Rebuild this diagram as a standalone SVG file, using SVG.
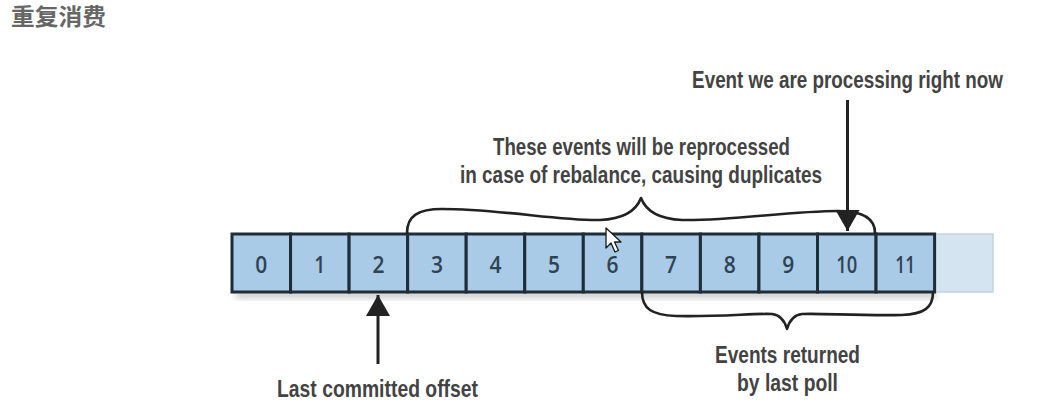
<svg xmlns="http://www.w3.org/2000/svg" width="1061" height="408" viewBox="0 0 1061 408">
<defs>
<style>
.cell{fill:#a9cbe7;stroke:#1f2d38;stroke-width:3}
.num{font-family:"Open Sans","Liberation Sans",sans-serif;font-size:24px;font-weight:600;fill:#2f4352;text-anchor:middle}
.lbl{font-family:"Liberation Sans",Arial,sans-serif;font-size:24px;font-weight:700;fill:#434343;text-anchor:middle}
.brace{fill:none;stroke:#222;stroke-width:2.6;stroke-linecap:round;stroke-linejoin:round}
.arrow{fill:none;stroke:#222;stroke-width:3}
.title{font-family:"Noto Sans CJK SC","Noto Sans",sans-serif;font-size:23px;font-weight:700;fill:#666}
</style>
<marker id="ah" markerWidth="8" markerHeight="8" refX="7" refY="4" orient="auto" markerUnits="strokeWidth" viewBox="0 0 8 8">
<path d="M0,0 L7,4 L0,8 z" fill="#222"/>
</marker>
<filter id="sh" x="-5%" y="-30%" width="110%" height="170%">
<feGaussianBlur stdDeviation="3"/>
</filter>
</defs>
<rect width="1061" height="408" fill="#ffffff"/>
<text class="title" x="11" y="25" textLength="95" lengthAdjust="spacingAndGlyphs">重复消费</text>

<rect x="236" y="292" width="700" height="6" fill="#888" opacity="0.5" filter="url(#sh)"/>

<g id="cell-faded"><rect x="934.6" y="234" width="58.4" height="58" fill="#d4e4f0" stroke="#c3d4e1" stroke-width="1.5"/></g>
<g id="cell-0"><rect class="cell" x="232" y="234" width="58.55" height="58"/><text class="num" x="261.3" y="273" textLength="12" lengthAdjust="spacingAndGlyphs">0</text></g>
<g id="cell-1"><rect class="cell" x="290.55" y="234" width="58.55" height="58"/><text class="num" x="319.8" y="273" textLength="11" lengthAdjust="spacingAndGlyphs">1</text></g>
<g id="cell-2"><rect class="cell" x="349.1" y="234" width="58.55" height="58"/><text class="num" x="378.4" y="273" textLength="12" lengthAdjust="spacingAndGlyphs">2</text></g>
<g id="cell-3"><rect class="cell" x="407.65" y="234" width="58.55" height="58"/><text class="num" x="436.9" y="273" textLength="12" lengthAdjust="spacingAndGlyphs">3</text></g>
<g id="cell-4"><rect class="cell" x="466.2" y="234" width="58.55" height="58"/><text class="num" x="495.5" y="273" textLength="12" lengthAdjust="spacingAndGlyphs">4</text></g>
<g id="cell-5"><rect class="cell" x="524.75" y="234" width="58.55" height="58"/><text class="num" x="554" y="273" textLength="12" lengthAdjust="spacingAndGlyphs">5</text></g>
<g id="cell-6"><rect class="cell" x="583.3" y="234" width="58.55" height="58"/><text class="num" x="612.6" y="273" textLength="12" lengthAdjust="spacingAndGlyphs">6</text></g>
<g id="cell-7"><rect class="cell" x="641.85" y="234" width="58.55" height="58"/><text class="num" x="671.1" y="273" textLength="12" lengthAdjust="spacingAndGlyphs">7</text></g>
<g id="cell-8"><rect class="cell" x="700.4" y="234" width="58.55" height="58"/><text class="num" x="729.7" y="273" textLength="12" lengthAdjust="spacingAndGlyphs">8</text></g>
<g id="cell-9"><rect class="cell" x="758.95" y="234" width="58.55" height="58"/><text class="num" x="788.2" y="273" textLength="12" lengthAdjust="spacingAndGlyphs">9</text></g>
<g id="cell-10"><rect class="cell" x="817.5" y="234" width="58.55" height="58"/><text class="num" x="846.8" y="273" textLength="21" lengthAdjust="spacingAndGlyphs">10</text></g>
<g id="cell-11"><rect class="cell" x="876.05" y="234" width="58.55" height="58"/><text class="num" x="905.3" y="273" textLength="20" lengthAdjust="spacingAndGlyphs">11</text></g>

<g id="label-current"><text class="lbl" transform="translate(847.5,88) scale(0.785,1)" x="0" y="0">Event we are processing right now</text></g>
<g id="label-reprocessed">
<text class="lbl" x="641.5" y="155" textLength="297" lengthAdjust="spacingAndGlyphs">These events will be reprocessed</text>
<text class="lbl" x="641" y="183" textLength="362" lengthAdjust="spacingAndGlyphs">in case of rebalance, causing duplicates</text>
</g>
<g id="label-committed"><text class="lbl" x="377.5" y="397" textLength="201" lengthAdjust="spacingAndGlyphs">Last committed offset</text></g>
<g id="label-poll">
<text class="lbl" x="787.5" y="363" textLength="145" lengthAdjust="spacingAndGlyphs">Events returned</text>
<text class="lbl" x="787.5" y="391" textLength="101" lengthAdjust="spacingAndGlyphs">by last poll</text>
</g>

<g id="connectors">
<path class="brace" d="M407,233 C407,216 418,209 442,209 C500,209 560,221 600,220 C624,219 636,211 641,198 C646,211 658,219 682,220 C730,221 790,211 838,211 C864,211 875,219 875,233"/>
<path class="brace" d="M642,292 C642,309 652,315 676,316 C720,317 755,313 772,314 C781,315 785,322 787,329 C789,322 793,315 802,314 C820,313 860,316 902,315 C924,314 933,308 933,292"/>
<line class="arrow" x1="847.5" y1="100" x2="847.5" y2="231" marker-end="url(#ah)"/>
<line class="arrow" x1="378" y1="364" x2="378" y2="295" marker-end="url(#ah)"/>
</g>

<path d="M606,228 L606,248 L611,243 L615,252 L618.5,250.5 L614.5,242 L621,242 Z" fill="#ffffff" stroke="#1a1a1a" stroke-width="1.3" stroke-linejoin="round"/>
</svg>
